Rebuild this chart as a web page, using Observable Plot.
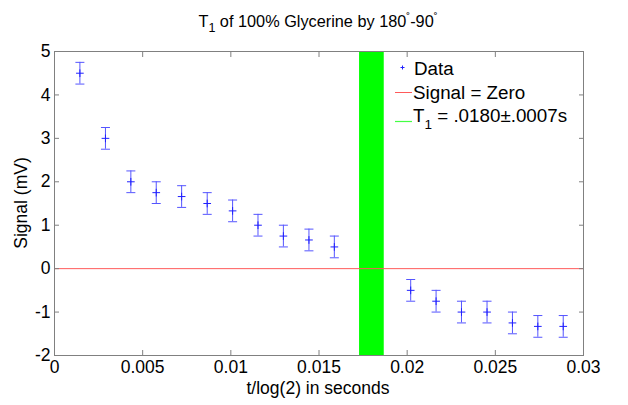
<!DOCTYPE html>
<html><head><meta charset="utf-8">
<script src="https://cdn.jsdelivr.net/npm/d3@7"></script>
<script src="https://cdn.jsdelivr.net/npm/@observablehq/plot@0.6"></script>
<style>body{margin:0;background:#fff} svg{display:block}</style>
</head><body><div id="chart"></div>
<script>
// Data
const times = [0.00144, 0.00289, 0.00433, 0.00577, 0.00721, 0.00866, 0.01010, 0.01154, 0.01298, 0.01443, 0.01587,
               0.02020, 0.02164, 0.02308, 0.02453, 0.02597, 0.02741, 0.02885];
const signal = [4.5, 3.0, 2.0, 1.75, 1.66, 1.5, 1.33, 1.0, 0.75, 0.66, 0.5,
                -0.5, -0.75, -1.0, -1.0, -1.25, -1.33, -1.33];
const errors = [0.25, 0.25, 0.25, 0.25, 0.25, 0.25, 0.25, 0.25, 0.25, 0.25, 0.25,
                0.25, 0.25, 0.25, 0.25, 0.25, 0.25, 0.25];
const zeroLevel = [0];
const t1Band = [0.0173, 0.0187];
const xTicks = [0, 0.005, 0.01, 0.015, 0.02, 0.025, 0.03];
const xTickLabels = ["0", "0.005", "0.01", "0.015", "0.02", "0.025", "0.03"];
const yTicks = [-2, -1, 0, 1, 2, 3, 4, 5];
const yTickLabels = ["-2", "-1", "0", "1", "2", "3", "4", "5"];
const legendLabels = ["Data", "Signal = Zero", "T1 = .0180±.0007s"];

const rows = times.map((t, i) => ({t, s: signal[i], lo: signal[i] - errors[i], hi: signal[i] + errors[i]}));
const band = [{x1: t1Band[0], x2: t1Band[1]}];

const BLUE = "#5555ff", RED = "#ff5a5a", GREEN = "#00ff00", GREY = "#808080";
const FONT = "'Liberation Sans', Arial, Helvetica, sans-serif";

const capSymbol = {
  draw(ctx, size) { const w = Math.sqrt(size / Math.PI); ctx.moveTo(-w, 0); ctx.lineTo(w, 0); }
};

const xFmt = d => xTickLabels[xTicks.indexOf(d)];
const yFmt = d => yTickLabels[yTicks.indexOf(d)];

const chart = Plot.plot({
  width: 628, height: 405,
  marginLeft: 54, marginRight: 45, marginTop: 51, marginBottom: 50,
  style: {fontFamily: FONT, fontSize: "17.5px", color: "#000", background: "#fff"},
  x: {domain: [0, 0.03]},
  y: {domain: [-2, 5]},
  marks: [
    Plot.rect(band, {x1: "x1", x2: "x2", fill: GREEN}),
    Plot.ruleY(zeroLevel, {stroke: RED, strokeWidth: 1}),
    Plot.ruleX(rows, {x: "t", y1: "lo", y2: "hi", stroke: BLUE, strokeWidth: 1}),
    Plot.dot(rows, {x: "t", y: "lo", symbol: capSymbol, r: 4.5, stroke: BLUE, fill: "none", strokeWidth: 1}),
    Plot.dot(rows, {x: "t", y: "hi", symbol: capSymbol, r: 4.5, stroke: BLUE, fill: "none", strokeWidth: 1}),
    Plot.dot(rows, {x: "t", y: "s", symbol: "plus", r: 2.6, stroke: "#2020ff", strokeWidth: 1}),
    Plot.frame({stroke: GREY, strokeWidth: 1}),
    Plot.axisX({ticks: xTicks, tickFormat: xFmt, tickSize: -5, tickPadding: 10, stroke: GREY, fill: "#000", label: null}),
    Plot.axisX({anchor: "top", ticks: xTicks, tickFormat: () => "", tickSize: -5, stroke: GREY, label: null}),
    Plot.axisY({ticks: yTicks, tickFormat: yFmt, tickSize: -5, tickPadding: 9, stroke: GREY, fill: "#000", label: null}),
    Plot.axisY({anchor: "right", ticks: yTicks, tickFormat: () => "", tickSize: -5, stroke: GREY, label: null})
  ]
});
document.getElementById("chart").appendChild(chart);

const svg = d3.select(chart);
// Title
const title = svg.append("text").attr("x", 318).attr("y", 27).attr("text-anchor", "middle")
  .attr("font-family", FONT).attr("font-size", 16.3).attr("fill", "#000");
title.append("tspan").text("T");
title.append("tspan").attr("dy", 5).attr("font-size", 12.5).text("1");
title.append("tspan").attr("dy", -5).text(" of 100% Glycerine by 180");
title.append("tspan").attr("dy", -6).attr("font-size", 11.5).text("˚");
title.append("tspan").attr("dy", 6).text("-90");
title.append("tspan").attr("dy", -6).attr("font-size", 11.5).text("˚");

// Axis labels
svg.append("text").attr("x", 318).attr("y", 394).attr("text-anchor", "middle")
  .attr("font-family", FONT).attr("font-size", 17.5).attr("fill", "#000").text("t/log(2) in seconds");
svg.append("text").attr("transform", "translate(27,203) rotate(-90)").attr("text-anchor", "middle")
  .attr("font-family", FONT).attr("font-size", 17.5).attr("fill", "#000").text("Signal (mV)");

// Legend
const lg = svg.append("g").attr("font-family", FONT).attr("font-size", 18.8).attr("fill", "#000")
  .attr("text-anchor", "start");
lg.append("path").attr("d", "M400.5,67.5H404.5M402.5,65.5V69.5").attr("stroke", "#2020ff").attr("fill", "none");
lg.append("text").attr("x", 414).attr("y", 75).text(legendLabels[0]);
lg.append("path").attr("d", "M395,92.5H412").attr("stroke", RED).attr("fill", "none");
lg.append("text").attr("x", 413).attr("y", 99).text(legendLabels[1]);
lg.append("path").attr("d", "M395,121.5H412").attr("stroke", "#44ff44").attr("stroke-width", 1.2).attr("fill", "none");
const t1 = lg.append("text").attr("x", 413).attr("y", 122);
t1.append("tspan").text("T");
t1.append("tspan").attr("dy", 7).attr("font-size", 13.5).text("1");
t1.append("tspan").attr("dy", -7).text(" = .0180±.0007s");
</script>
</body></html>
